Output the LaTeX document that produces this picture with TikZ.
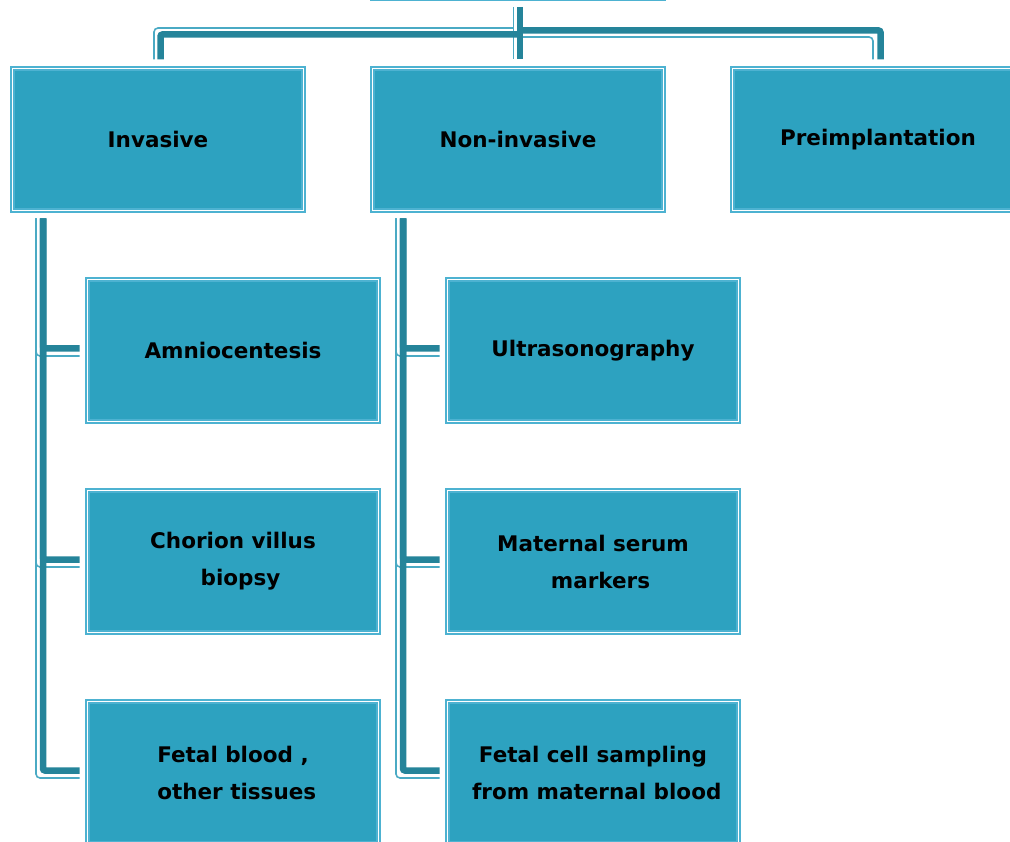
\documentclass[tikz,border=0pt]{standalone}
\usepackage{fontspec}
\setmainfont{DejaVu Sans}
\usetikzlibrary{calc}
\definecolor{boxfill}{HTML}{2DA2C0}
\definecolor{boxline}{HTML}{4DB2D1}
\definecolor{conn}{HTML}{25849A}
\definecolor{connlt}{HTML}{4AAAC4}
\tikzset{
  tbox/.style={rectangle, fill=boxfill, draw=boxline, double=white, double distance=1.1pt, line width=1.6pt,
    minimum width=291pt, minimum height=142pt, inner sep=0pt, outer sep=0pt, align=center,
    font=\fontsize{21.5}{37}\selectfont\bfseries, text=black},
  dk/.style={draw=conn, line width=6.5pt, rounded corners=2pt},
  lt/.style={draw=connlt, line width=1.6pt, rounded corners=4pt},
}
\begin{document}
\begin{tikzpicture}[x=1pt,y=-1pt]
\useasboundingbox (0,0) rectangle (1010,842);
\begin{scope}
\clip (0,0) rectangle (1010,842);
% nodes
\node[tbox] (root) at (518,-72) {};
\node[tbox] (inv) at (158,139.5) {Invasive};
\node[tbox] (non) at (518,139.5) {Non-invasive};
\node[tbox] (pre) at (878,139.5) {Preimplantation};
\node[tbox] (amn) at (233,350.5) {Amniocentesis};
\node[tbox] (cho) at (233,561.5) {Chorion villus\\\ \ biopsy};
\node[tbox] (fb) at (233,772.5) {Fetal blood ,\\\ other tissues};
\node[tbox] (ult) at (593,350.5) {Ultrasonography};
\node[tbox] (mat) at (593,561.5) {Maternal serum\\\ \ markers};
\node[tbox] (fc) at (593,772.5) {Fetal cell sampling\\\ from maternal blood};
\coordinate (top) at ($(root.south)+(2,8)$);
% top connectors
\draw[lt] ($(top)+(-6.5,0)$) -- ($(non.north)+(-4.5,-9)$);
\draw[lt] ($(top)+(-6.5,21)$) -| ($(inv.north)+(-4,-9)$);
\draw[lt] ($(top)+(0,30)$) -| ($(pre.north)+(-5,-9)$);
\draw[dk] ($(top)+(0,27.5)$) -| ($(inv.north)+(2.5,-9)$);
\draw[dk] ($(top)+(0,23.5)$) -| ($(pre.north)+(2.5,-9)$);
\draw[dk] (top) -- ($(non.north)+(2,-9)$);
% left column
\foreach \c in {amn,cho,fb}{
  \draw[lt] ($(inv.south west)+(23.5,8)$) |- ($(\c.west)+(-8,5.5)$);
}
\foreach \c in {amn,cho,fb}{
  \draw[dk] ($(inv.south west)+(30.5,8)$) |- ($(\c.west)+(-8,-2)$);
}
% middle column
\foreach \c in {ult,mat,fc}{
  \draw[lt] ($(non.south west)+(23.5,8)$) |- ($(\c.west)+(-8,5.5)$);
}
\foreach \c in {ult,mat,fc}{
  \draw[dk] ($(non.south west)+(30.5,8)$) |- ($(\c.west)+(-8,-2)$);
}
\end{scope}
\end{tikzpicture}
\end{document}
